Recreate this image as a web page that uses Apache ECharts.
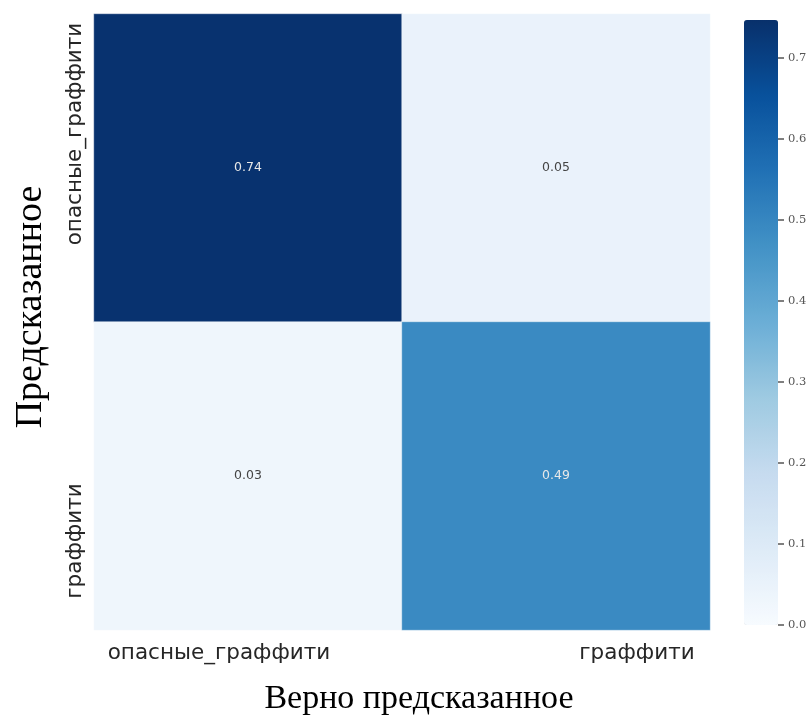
<!DOCTYPE html>
<html>
<head>
<meta charset="utf-8">
<script src="https://cdn.jsdelivr.net/npm/echarts@6/dist/echarts.min.js"></script>
<style>html,body{margin:0;padding:0;background:#fff;}#c{width:809px;height:718px;}</style>
</head>
<body>
<div id="c"></div>
<script>
const trueLabels = ['опасные_граффити', 'граффити'];
const predLabels = ['опасные_граффити', 'граффити'];
const row0 = [0.74, 0.05];
const row1 = [0.03, 0.49];
const colorbarTickMax = 0.7;
const colorbarMax = 0.747;

const rows = [row0, row1];
const data = [];
rows.forEach((r, yi) => r.forEach((v, xi) => data.push({value: [xi, yi, v], label: {color: v > 0.37 ? '#e8e8e8' : '#444'}})));

const blues = ['#f7fbff','#deebf7','#c6dbef','#9ecae1','#6baed6','#4292c6','#2171b5','#08519c','#08306b'];

const cbTop = 20, cbBottom = 625;
const cbTickTop = cbBottom - (cbBottom - cbTop) * colorbarTickMax / colorbarMax;

const chart = echarts.init(document.getElementById('c'));
chart.setOption({
  backgroundColor: '#fff',
  animation: false,
  grid: [
    {left: 94, top: 14, width: 616, height: 616, outerBoundsMode: 'none', containLabel: false},
    {left: 744, top: cbTickTop, width: 34, height: cbBottom - cbTickTop, outerBoundsMode: 'none', containLabel: false}
  ],
  xAxis: [
    {
      type: 'category', data: trueLabels, gridIndex: 0,
      axisLine: {show: false}, axisTick: {show: false}, splitLine: {show: false},
      axisLabel: {
        margin: 12,
        formatter: (v, i) => i === 0 ? '{a|' + v + '}' : '{b|' + v + '}',
        rich: {
          a: {fontFamily: 'DejaVu Sans', fontSize: 21.5, color: '#262626', padding: [0, 58, 0, 0]},
          b: {fontFamily: 'DejaVu Sans', fontSize: 21.5, color: '#262626', padding: [0, 0, 0, 162]}
        }
      },
      name: 'Верно предсказанное', nameLocation: 'middle', nameGap: 52,
      nameTextStyle: {fontFamily: 'Liberation Serif', fontSize: 34, color: '#000', padding: [0, 0, 0, 34]}
    },
    {type: 'value', gridIndex: 1, show: false, min: 0, max: 1}
  ],
  yAxis: [
    {
      type: 'category', data: predLabels, gridIndex: 0, inverse: true,
      axisLine: {show: false}, axisTick: {show: false}, splitLine: {show: false},
      axisLabel: {
        rotate: 90, margin: 8,
        formatter: (v, i) => i === 0 ? '{a|' + v + '}' : '{b|' + v + '}',
        rich: {
          a: {fontFamily: 'DejaVu Sans', fontSize: 21.5, color: '#262626', padding: [0, 0, 0, 68]},
          b: {fontFamily: 'DejaVu Sans', fontSize: 21.5, color: '#262626', padding: [0, 130, 0, 0]}
        }
      },
      name: 'Предсказанное', nameLocation: 'middle', nameGap: 44,
      nameTextStyle: {fontFamily: 'Liberation Serif', fontSize: 38, color: '#000', padding: [0, 0, 0, 30]}
    },
    {
      type: 'value', gridIndex: 1, position: 'right', min: 0, max: colorbarTickMax, interval: 0.1,
      axisLine: {show: false, onZero: false}, splitLine: {show: false},
      axisTick: {show: true, inside: false, length: 6, lineStyle: {color: '#555', width: 1.5}},
      axisLabel: {margin: 10, fontFamily: 'DejaVu Serif', fontSize: 11.5, color: '#555',
        formatter: v => v.toFixed(1)},
      z: 10
    }
  ],
  visualMap: {
    type: 'continuous', min: 0, max: colorbarMax, seriesIndex: 0,
    orient: 'vertical', left: 744, top: cbTop, itemWidth: 34, itemHeight: cbBottom - cbTop,
    calculable: false, text: null, showLabel: false, hoverLink: false,
    padding: 0,
    inRange: {color: blues}
  },
  series: [{
    type: 'heatmap', xAxisIndex: 0, yAxisIndex: 0, data: data,
    itemStyle: {borderColor: 'rgba(255,255,255,0.35)', borderWidth: 1},
    label: {
      show: true, fontFamily: 'DejaVu Sans', fontSize: 12.5,
      formatter: p => p.value[2].toFixed(2),
      color: '#444'
    },
    emphasis: {disabled: true}
  }]
});
</script>
</body>
</html>
